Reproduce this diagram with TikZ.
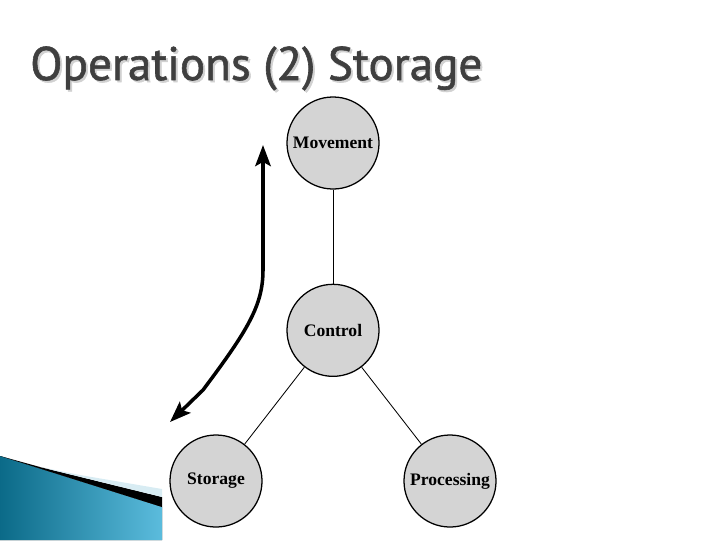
\documentclass[tikz,border=0pt]{standalone}
\usepackage{fontspec}
\setmainfont{Liberation Serif}
\newfontfamily\titlefont[BoldFont={PT Sans}, BoldFeatures={FakeBold=1.2}]{PT Sans}
\usepackage{tikz}
\usetikzlibrary{positioning, arrows.meta}
\definecolor{unitgray}{HTML}{D4D4D4}
\definecolor{titlegray}{HTML}{3F3F3F}
\definecolor{tealdark}{HTML}{0B6A88}
\definecolor{teallight}{HTML}{5BBCDD}
\definecolor{stripblue}{HTML}{D8ECF3}

\begin{document}
\begin{tikzpicture}[x=0.025cm, y=-0.025cm,
    unit/.style={circle, draw, line width=0.9pt, fill=unitgray,
                 minimum size=2.3cm, inner sep=0pt, font=\bfseries\fontsize{12.5}{14}\selectfont},
    link/.style={line width=0.6pt},
    flow/.style={line width=2.5pt, {Stealth[length=15pt, width=11pt, inset=3pt]}-{Stealth[length=15pt, width=11pt, inset=3pt]}}]
  \useasboundingbox (0,0) rectangle (720,540);

  % title with its soft shadow
  \node[anchor=base west, inner sep=0pt, text=black!18, font=\titlefont\bfseries\fontsize{33.5}{36}\selectfont]
    (shadow) at (32,82) {Operations (2) Storage};
  \node[anchor=base west, inner sep=0pt, text=titlegray, font=\titlefont\bfseries\fontsize{33.5}{36}\selectfont]
    (title) at (30,80) {Operations (2) Storage};

  % corner decoration
  \fill[left color=tealdark, right color=teallight] (0,456) -- (162,507) -- (162,540) -- (0,540) -- cycle;
  \fill[black] (40,467) -- (162,497) -- (162,507) -- (0,456) -- cycle;
  \fill[stripblue] (80,475) -- (162,489) -- (162,497) -- (40,467) -- cycle;

  % the four functions
  \node[unit] (move) at (333,143) {Movement};
  \node[unit, below=2.35cm of move] (ctrl) {Control};
  \node[unit] (store) at (216,481) {Storage};
  \node[unit] (proc) at (450,481) {Processing};

  \draw[link] (move) -- (ctrl);
  \draw[link] (ctrl) -- (store);
  \draw[link] (ctrl) -- (proc);

  % data flow arrow
  \coordinate (flowlow) at (170,422);
  \coordinate (flowbend) at (203,390);
  \coordinate (flowup) at (263,270);
  \coordinate (flowtop) at (263,145);
  \draw[flow] (flowlow) -- (flowbend) .. controls (248,330) and (263,305) .. (flowup) -- (flowtop);
\end{tikzpicture}
\end{document}
